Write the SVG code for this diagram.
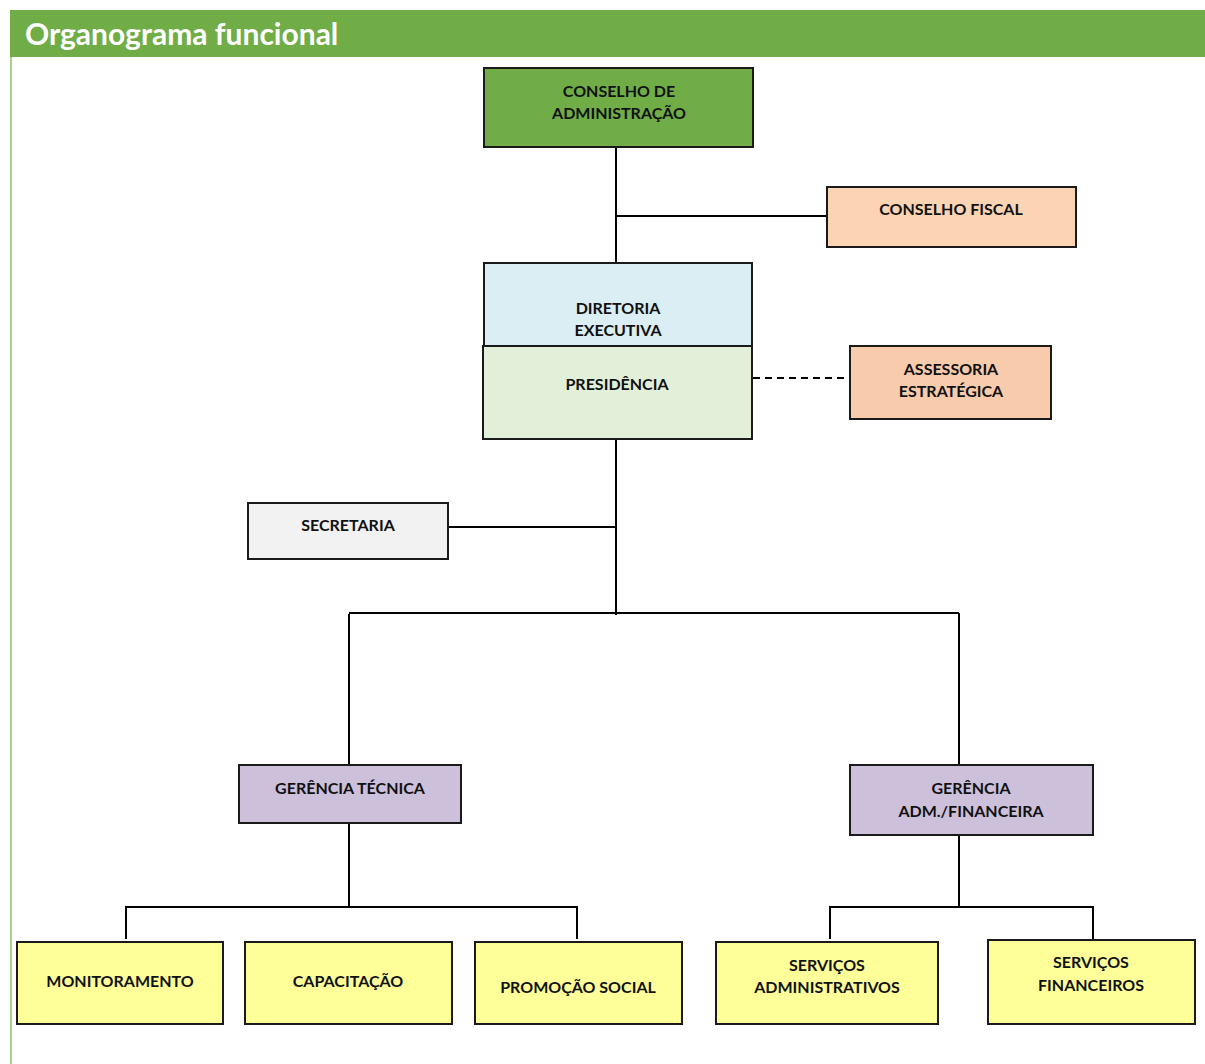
<svg xmlns="http://www.w3.org/2000/svg" width="1205" height="1064" viewBox="0 0 1205 1064">
<style>
.box{stroke:#1a1a1a;stroke-width:2}
.t{font-family:Lato,"Liberation Sans",sans-serif;font-weight:bold;font-size:16px;fill:#111;text-anchor:middle}
.c{stroke:#000;stroke-width:2;fill:none}
</style>
<rect x="0" y="0" width="1205" height="1064" fill="#fff"/>
<rect x="10" y="10" width="1195" height="47" fill="#70AD47"/>
<line x1="11" y1="57" x2="11" y2="1064" stroke="#A9D18E" stroke-width="2"/>
<text x="25" y="45" font-family="Lato,'Liberation Sans',sans-serif" font-weight="bold" font-size="30" fill="#fff">Organograma funcional</text>
<g id="connectors">
<line class="c" x1="616" y1="148" x2="616" y2="263"/>
<line class="c" x1="616" y1="216" x2="827" y2="216"/>
<line class="c" x1="753" y1="378" x2="850" y2="378" stroke-dasharray="7,5"/>
<line class="c" x1="616" y1="440" x2="616" y2="615"/>
<line class="c" x1="448" y1="527" x2="616" y2="527"/>
<line class="c" x1="349" y1="613" x2="959" y2="613"/>
<line class="c" x1="349" y1="614" x2="349" y2="765"/>
<line class="c" x1="959" y1="613" x2="959" y2="765"/>
<line class="c" x1="349" y1="823" x2="349" y2="907"/>
<polyline class="c" points="126,939 126,907 577,907 577,939"/>
<line class="c" x1="959" y1="835" x2="959" y2="907"/>
<polyline class="c" points="830,939 830,907 1093,907 1093,939"/>
</g>
<g id="conselho-adm"><rect class="box" x="484" y="68" width="269" height="79" fill="#70AD47"/><text class="t" x="619" y="97">CONSELHO DE</text><text class="t" x="619" y="119">ADMINISTRAÇÃO</text></g>
<g id="conselho-fiscal"><rect class="box" x="827" y="187" width="249" height="60" fill="#FBD4B4"/><text class="t" x="951" y="215">CONSELHO FISCAL</text></g>
<g id="diretoria"><rect class="box" x="484" y="263" width="268" height="83" fill="#DAEEF3"/><text class="t" x="618" y="314">DIRETORIA</text><text class="t" x="618" y="336">EXECUTIVA</text></g>
<g id="presidencia"><rect class="box" x="483" y="346" width="269" height="93" fill="#E2EFD9"/><text class="t" x="617" y="390">PRESIDÊNCIA</text></g>
<g id="assessoria"><rect class="box" x="850" y="346" width="201" height="73" fill="#F8CBAD"/><text class="t" x="951" y="375">ASSESSORIA</text><text class="t" x="951" y="397">ESTRATÉGICA</text></g>
<g id="secretaria"><rect class="box" x="248" y="503" width="200" height="56" fill="#F2F2F2"/><text class="t" x="348" y="531">SECRETARIA</text></g>
<g id="gerencia-tecnica"><rect class="box" x="239" y="765" width="222" height="58" fill="#CCC0DA"/><text class="t" x="350" y="794">GERÊNCIA TÉCNICA</text></g>
<g id="gerencia-adm"><rect class="box" x="850" y="765" width="243" height="70" fill="#CCC0DA"/><text class="t" x="971" y="794">GERÊNCIA</text><text class="t" x="971" y="817">ADM./FINANCEIRA</text></g>
<g id="monitoramento"><rect class="box" x="17" y="942" width="206" height="82" fill="#FFFF99"/><text class="t" x="120" y="987">MONITORAMENTO</text></g>
<g id="capacitacao"><rect class="box" x="245" y="942" width="207" height="82" fill="#FFFF99"/><text class="t" x="348" y="987">CAPACITAÇÃO</text></g>
<g id="promocao"><rect class="box" x="475" y="942" width="207" height="82" fill="#FFFF99"/><text class="t" x="578" y="993">PROMOÇÃO SOCIAL</text></g>
<g id="servicos-adm"><rect class="box" x="716" y="942" width="222" height="82" fill="#FFFF99"/><text class="t" x="827" y="971">SERVIÇOS</text><text class="t" x="827" y="993">ADMINISTRATIVOS</text></g>
<g id="servicos-fin"><rect class="box" x="988" y="940" width="207" height="84" fill="#FFFF99"/><text class="t" x="1091" y="968">SERVIÇOS</text><text class="t" x="1091" y="991">FINANCEIROS</text></g>
</svg>
